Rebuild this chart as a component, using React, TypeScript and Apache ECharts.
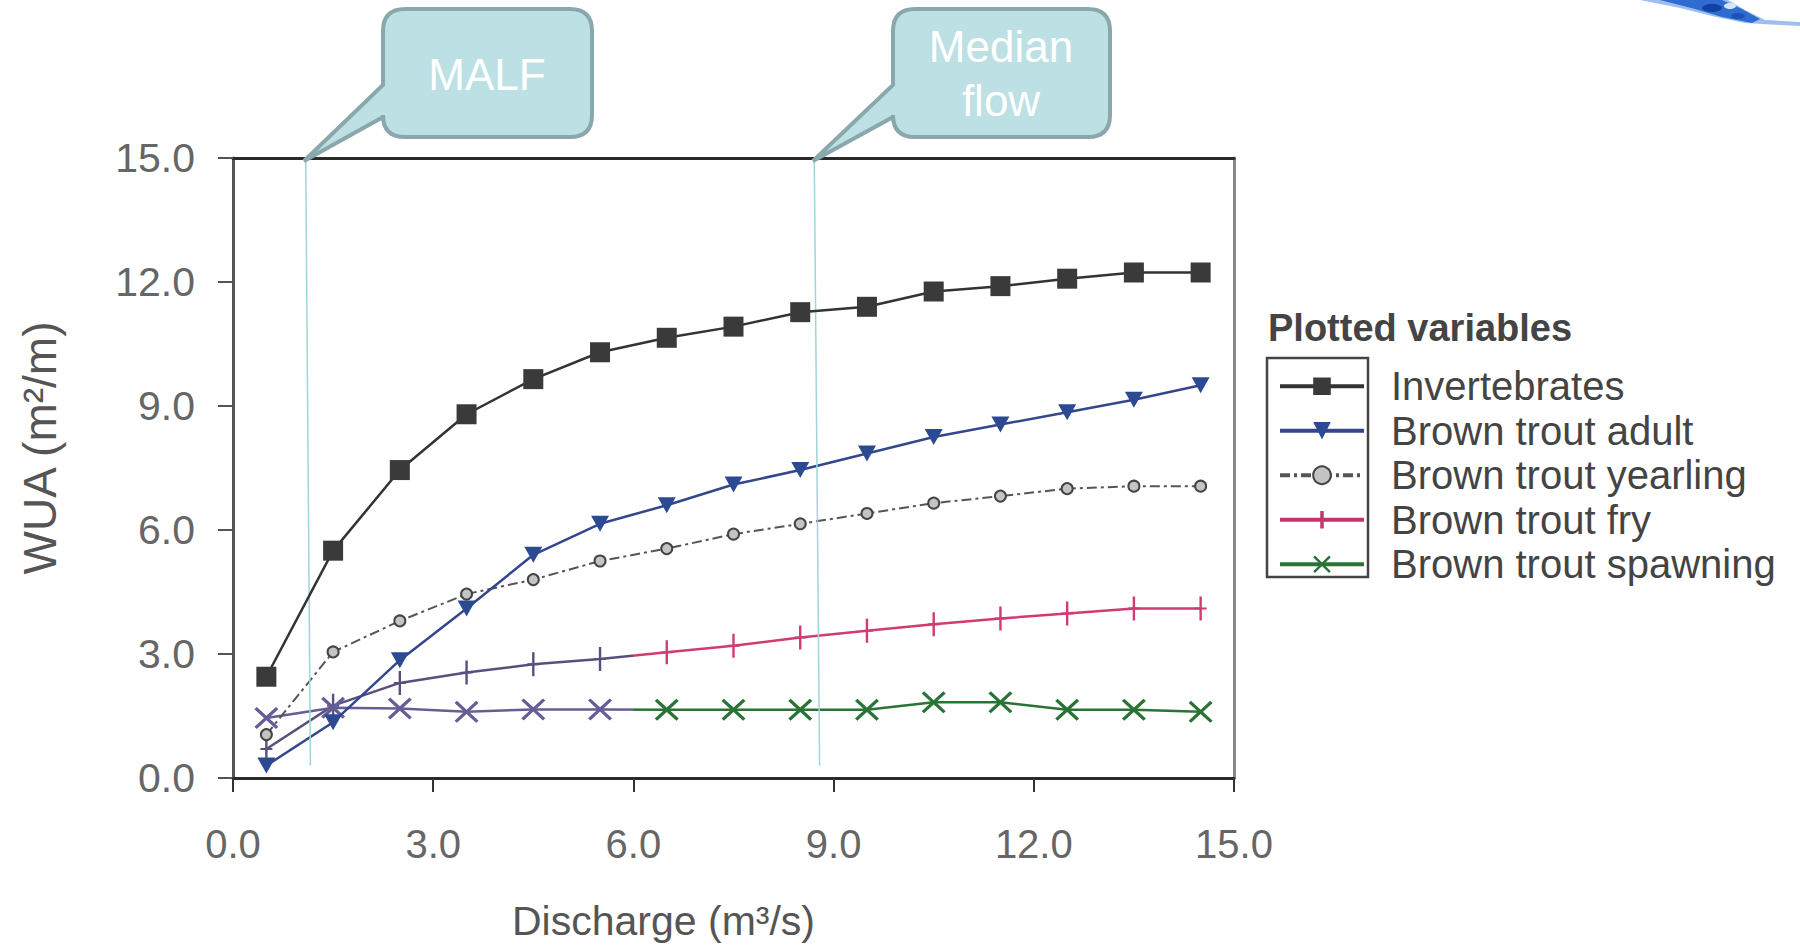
import React, { useEffect, useRef } from "react";
import * as echarts from "echarts";

// ---- data ----
const discharge = [0.5, 1.5, 2.5, 3.5, 4.5, 5.5, 6.5, 7.5, 8.5, 9.5, 10.5, 11.5, 12.5, 13.5, 14.5];
const seriesNames = ["Invertebrates", "Brown trout adult", "Brown trout yearling", "Brown trout fry", "Brown trout spawning"];
const invertebrates = [2.45, 5.5, 7.45, 8.8, 9.65, 10.3, 10.65, 10.92, 11.27, 11.4, 11.77, 11.9, 12.08, 12.23, 12.23];
const troutAdult = [0.3, 1.35, 2.85, 4.1, 5.4, 6.15, 6.6, 7.1, 7.45, 7.85, 8.25, 8.55, 8.85, 9.15, 9.5];
const troutYearling = [1.05, 3.05, 3.8, 4.45, 4.8, 5.25, 5.55, 5.9, 6.15, 6.4, 6.65, 6.82, 7.0, 7.06, 7.06];
const troutFry = [0.7, 1.75, 2.3, 2.55, 2.75, 2.88, 3.04, 3.2, 3.4, 3.56, 3.72, 3.86, 3.98, 4.1, 4.1];
const troutSpawning = [1.45, 1.7, 1.68, 1.6, 1.66, 1.66, 1.65, 1.65, 1.65, 1.65, 1.83, 1.83, 1.65, 1.65, 1.6];
const axisMin = 0;
const axisMax = 15;
const axisInterval = 3;
// reference flow lines: [x at top, y at top], [x at bottom, y at bottom]
const malfLine = [[1.09, 15], [1.16, 0.3]];
const medianLine = [[8.71, 15], [8.79, 0.3]];
const calloutTexts = ["MALF", "Median\nflow"];

const pairs = (ys: number[]) => discharge.map((x, i) => [x, ys[i]]);

const plusPath = "path://M4.2,0 H5.8 V9.2 H9 V10.8 H5.8 V20 H4.2 V10.8 H1 V9.2 H4.2 Z";
const crossPath = "path://M0,2 L2,0 L10,8 L18,0 L20,2 L12,10 L20,18 L18,20 L10,12 L2,20 L0,18 L8,10 Z";

function calloutD(L: number, R: number, T: number, B: number, r: number, y1: number, y2: number, tx: number, ty: number) {
  return `M ${L + r} ${T} L ${R - r} ${T} Q ${R} ${T} ${R} ${T + r} L ${R} ${B - r} Q ${R} ${B} ${R - r} ${B} L ${L + r} ${B} Q ${L} ${B} ${L} ${B - r} L ${L} ${y2} L ${tx} ${ty} L ${L} ${y1} L ${L} ${T + r} Q ${L} ${T} ${L + r} ${T} Z`;
}

let registered = false;
function registerShapes() {
  if (registered) return;
  registered = true;
  echarts.graphic.registerShape("calloutMalf", echarts.graphic.extendPath(calloutD(383, 592, 9, 137, 22, 85, 117, 304, 161), {}) as any);
  echarts.graphic.registerShape("calloutMedian", echarts.graphic.extendPath(calloutD(893, 1110, 9, 137, 22, 85, 117, 813, 161), {}) as any);
}

export default function App() {
  const ref = useRef<HTMLDivElement>(null);
  useEffect(() => {
    if (!ref.current) return;
    registerShapes();
    const chart = echarts.init(ref.current, undefined, { renderer: "svg" });
    const font = "Liberation Sans";
    const fmt = (v: number) => v.toFixed(1);
    const calloutStyle = { fill: "#bde0e4", stroke: "#8aa8ab", lineWidth: 4 };
    const option: any = {
      animation: false,
      backgroundColor: "#ffffff",
      textStyle: { fontFamily: font },
      grid: { left: 233, top: 158, width: 1001, height: 620 },
      xAxis: [
        {
          type: "value", min: axisMin, max: axisMax, interval: axisInterval, position: "bottom",
          axisLine: { show: true, onZero: false, lineStyle: { color: "#2a2a2a", width: 3 } },
          axisTick: { show: true, length: 14, lineStyle: { color: "#333", width: 2 } },
          axisLabel: { formatter: fmt, color: "#666", fontSize: 40, margin: 46, fontFamily: font },
          splitLine: { show: false },
          name: "Discharge (m³/s)", nameLocation: "middle", nameGap: 122,
          nameTextStyle: { fontSize: 41, color: "#555", fontFamily: font, padding: [0, 140, 0, 0] },
        },
        {
          type: "value", min: axisMin, max: axisMax, position: "top",
          axisLine: { show: true, onZero: false, lineStyle: { color: "#2a2a2a", width: 3 } },
          axisTick: { show: false }, axisLabel: { show: false }, splitLine: { show: false },
        },
      ],
      yAxis: [
        {
          type: "value", min: axisMin, max: axisMax, interval: axisInterval, position: "left",
          axisLine: { show: true, onZero: false, lineStyle: { color: "#555", width: 3 } },
          axisTick: { show: true, length: 15, lineStyle: { color: "#555", width: 2 } },
          axisLabel: { formatter: fmt, color: "#666", fontSize: 41, margin: 38, fontFamily: font },
          splitLine: { show: false },
          name: "WUA (m²/m)", nameLocation: "middle", nameGap: 170,
          nameTextStyle: { fontSize: 46, color: "#555", fontFamily: font, padding: [0, 0, 0, 40] },
        },
        {
          type: "value", min: axisMin, max: axisMax, position: "right",
          axisLine: { show: true, onZero: false, lineStyle: { color: "#888", width: 3 } },
          axisTick: { show: false }, axisLabel: { show: false }, splitLine: { show: false },
        },
      ],
      legend: {
        orient: "vertical", left: 1278, top: 364, padding: 0, itemGap: 0,
        itemWidth: 84, itemHeight: 22, selectedMode: false,
        textStyle: { fontSize: 40, color: "#444", lineHeight: 44.5, padding: [0, 0, 0, 22], fontFamily: font },
        lineStyle: { width: 4 },
        data: seriesNames,
      },
      visualMap: [
        { type: "piecewise", show: false, dimension: 0, seriesIndex: 3, pieces: [{ gte: 0, lt: 6, color: "#57507f" }, { gte: 6, lte: 15, color: "#d13a72" }] },
        { type: "piecewise", show: false, dimension: 0, seriesIndex: 4, pieces: [{ gte: 0, lt: 6, color: "#655e96" }, { gte: 6, lte: 15, color: "#2a7336" }] },
      ],
      series: [
        {
          name: seriesNames[0], type: "line", data: pairs(invertebrates),
          symbol: "rect", symbolSize: 20, itemStyle: { color: "#3a3a3a" },
          lineStyle: { color: "#333", width: 2.5 }, z: 5,
          markLine: {
            silent: true, symbol: "none", label: { show: false }, animation: false,
            lineStyle: { color: "#9fd5da", width: 1.5, type: "solid" },
            data: [
              [{ coord: malfLine[0] }, { coord: malfLine[1] }],
              [{ coord: medianLine[0] }, { coord: medianLine[1] }],
            ],
          },
        },
        {
          name: seriesNames[1], type: "line", data: pairs(troutAdult),
          symbol: "triangle", symbolRotate: 180, symbolSize: [18, 16], itemStyle: { color: "#2c4a91" },
          lineStyle: { color: "#34468c", width: 2.5 }, z: 4,
        },
        {
          name: seriesNames[2], type: "line", data: pairs(troutYearling),
          symbol: "circle", symbolSize: 11, itemStyle: { color: "#c4c4c4", borderColor: "#444", borderWidth: 2 },
          lineStyle: { color: "#555", width: 2, type: [10, 4, 3, 4] }, z: 3,
        },
        {
          name: seriesNames[3], type: "line", data: pairs(troutFry),
          symbol: plusPath, symbolSize: [12, 24], itemStyle: { color: "#c8336a" },
          lineStyle: { width: 2.5 }, z: 2,
        },
        {
          name: seriesNames[4], type: "line", data: pairs(troutSpawning),
          symbol: crossPath, symbolSize: [24, 22], itemStyle: { color: "#2a7336" },
          lineStyle: { width: 2.5 }, z: 2,
        },
      ],
      graphic: [
        { type: "polygon", shape: { points: [[1640, 0], [1680, 8], [1712, 16], [1745, 23], [1800, 26], [1800, 22], [1765, 20], [1745, 10], [1728, 0]] }, style: { fill: "#9dbff0" }, silent: true },
        { type: "polygon", shape: { points: [[1660, 0], [1695, 9], [1722, 17], [1752, 23], [1760, 19], [1742, 9], [1722, 0]] }, style: { fill: "#2f6bd0" }, silent: true },
        { type: "ellipse", shape: { cx: 1712, cy: 8, rx: 10, ry: 4 }, style: { fill: "#0e43a3" }, silent: true },
        { type: "ellipse", shape: { cx: 1738, cy: 16, rx: 7, ry: 3 }, style: { fill: "#1b52b8" }, silent: true },
        { type: "ellipse", shape: { cx: 1730, cy: 6, rx: 6, ry: 3 }, style: { fill: "#d6e5fa" }, silent: true },
        { type: "calloutMalf", x: 0, y: 0, style: calloutStyle, silent: true, z: 10 },
        { type: "calloutMedian", x: 0, y: 0, style: calloutStyle, silent: true, z: 10 },
        {
          type: "text", x: 487, y: 74, silent: true, z: 11,
          style: { text: calloutTexts[0], fill: "#ffffff", font: `44px '${font}'`, align: "center", verticalAlign: "middle" },
        },
        {
          type: "text", x: 1001, y: 73, silent: true, z: 11,
          style: { text: calloutTexts[1], fill: "#ffffff", font: `44px '${font}'`, align: "center", verticalAlign: "middle", lineHeight: 54 },
        },
        {
          type: "text", x: 1268, y: 328, silent: true,
          style: { text: "Plotted variables", fill: "#444", font: `bold 38px '${font}'`, align: "left", verticalAlign: "middle" },
        },
        { type: "rect", shape: { x: 1267, y: 358, width: 101, height: 219 }, style: { fill: "none", stroke: "#444", lineWidth: 2.5 }, silent: true },
      ],
    };
    chart.setOption(option);
    return () => chart.dispose();
  }, []);
  return <div ref={ref} style={{ position: "fixed", left: 0, top: 0, width: 1800, height: 949 }} />;
}
